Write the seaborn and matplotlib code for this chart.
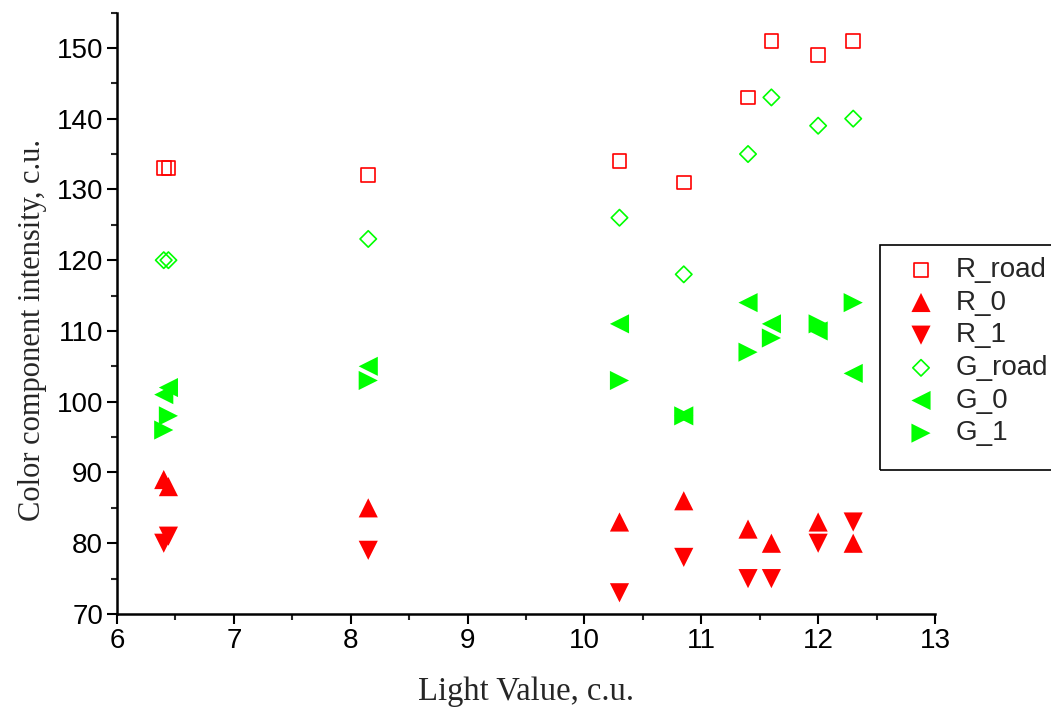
import numpy as np
import pandas as pd
import matplotlib
matplotlib.use("Agg")
import matplotlib.pyplot as plt
from matplotlib.patches import Rectangle
from matplotlib.ticker import MultipleLocator
import seaborn as sns

# Light value (x) for each measurement; the first column has two close shots
light = [6.40, 6.44, 8.15, 10.30, 10.85, 11.40, 11.60, 12.00, 12.30]

r_road = [133, 133, 132, 134, 131, 143, 151, 149, 151]
r_0 = [89, 88, 85, 83, 86, 82, 80, 83, 80]
r_1 = [80, 81, 79, 73, 78, 75, 75, 80, 83]
g_road = [120, 120, 123, 126, 118, 135, 143, 139, 140]
g_0 = [101, 102, 105, 111, 98, 114, 111, 110, 104]
g_1 = [96, 98, 103, 103, 98, 107, 109, 111, 114]

RED = "#ff0000"
GREEN = "#00ff00"

series = [
    ("R_road", r_road, "s", True, RED, 95),
    ("R_0", r_0, "^", False, RED, 190),
    ("R_1", r_1, "v", False, RED, 190),
    ("G_road", g_road, "D", True, GREEN, 70),
    ("G_0", g_0, "<", False, GREEN, 190),
    ("G_1", g_1, ">", False, GREEN, 190),
]

sns.set_style("ticks")
plt.rcParams["font.family"] = ["Liberation Sans", "DejaVu Sans"]

fig = plt.figure(figsize=(10.51, 7.11), dpi=100)
ax = fig.add_axes([117 / 1051, 97 / 711, 818 / 1051, 601.5 / 711])

for name, vals, marker, hollow, color, size in series:
    df = pd.DataFrame({"x": light, "y": vals})
    if hollow:
        sns.scatterplot(data=df, x="x", y="y", ax=ax, marker=marker, s=size,
                        facecolor="none", edgecolor=color, linewidth=1.2,
                        label=name)
    else:
        sns.scatterplot(data=df, x="x", y="y", ax=ax, marker=marker, s=size,
                        color=color, edgecolor="none", linewidth=0,
                        label=name)

ax.set_xlim(6, 13)
ax.set_ylim(70, 155)
ax.xaxis.set_major_locator(MultipleLocator(1))
ax.xaxis.set_minor_locator(MultipleLocator(0.5))
ax.yaxis.set_major_locator(MultipleLocator(10))
ax.yaxis.set_minor_locator(MultipleLocator(5))
ax.set_yticks(np.arange(70, 151, 10))

sns.despine(ax=ax)
for side in ["left", "bottom"]:
    ax.spines[side].set_linewidth(1.8)
    ax.spines[side].set_color("black")

ax.tick_params(which="major", direction="out", length=7, width=1.5,
               labelsize=20, pad=3, colors="black")
ax.tick_params(which="minor", direction="out", length=4, width=1.5)

serif = ["Liberation Serif", "DejaVu Serif"]
ax.set_xlabel("Light Value, c.u.", family=serif, fontsize=23.5, labelpad=16)
ax.set_ylabel("Color component intensity, c.u.", family=serif, fontsize=22)
ax.yaxis.set_label_coords(-0.085, 0.472)

# legend box like the original (frame drawn separately, cut by the right edge)
leg = ax.legend(loc="upper left", bbox_to_anchor=(896 / 1051, 1 - 246 / 711),
                bbox_transform=fig.transFigure, frameon=False, fontsize=20,
                handlelength=1.0, handletextpad=0.75, labelspacing=0.24,
                borderaxespad=0, scatterpoints=1)
fig.patches.append(Rectangle((880 / 1051, 1 - 470 / 711), 200 / 1051,
                             225 / 711, transform=fig.transFigure,
                             facecolor="none", edgecolor="black",
                             linewidth=1.2, zorder=5))

fig.savefig("out.png", dpi=100)
